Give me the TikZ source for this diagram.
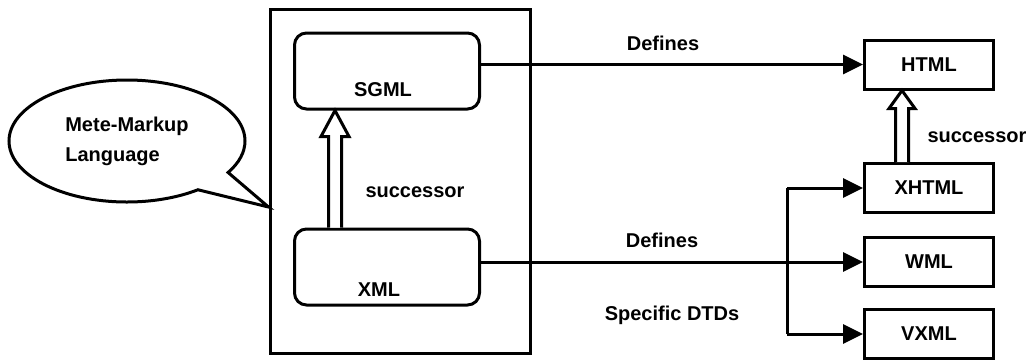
\documentclass[tikz,border=0pt]{standalone}
\usepackage{fontspec}
\setmainfont{Liberation Sans}
\usetikzlibrary{arrows.meta,calc,shapes.callouts}

% hollow upward arrow: bottom point, tip point, shaft half width, head half width, head length
\newcommand\hollowup[5]{%
  \draw[line width=3pt, line join=miter, fill=white]
    ($(#1)+(-#3,0)$) -- ($(#2)+(-#3,#5)$) -- ($(#2)+(-#4,#5)$) -- (#2)
    -- ($(#2)+(#4,#5)$) -- ($(#2)+(#3,#5)$) -- ($(#1)+(#3,0)$);}

\begin{document}
\begin{tikzpicture}[x=1pt, y=-1pt,
  every node/.style={font=\fontsize{20}{30}\selectfont\bfseries},
  frame/.style={draw, line width=3pt, minimum width=260, minimum height=344, inner sep=0},
  rbox/.style={draw, line width=3pt, rounded corners=12pt, minimum width=185, minimum height=76, inner sep=0},
  tbox/.style={draw, line width=3pt, minimum width=129, minimum height=49, inner sep=0},
  conn/.style={line width=3pt},
  arr/.style={conn, -{Triangle[length=20pt, width=19pt]}},
  lbl/.style={inner sep=0}]
\useasboundingbox (0,0) rectangle (1028,360);

% meta-markup group
\node[frame] (frame) at (400,181) {};
\node[rbox, label={[lbl, xshift=-4pt, yshift=-19pt]center:SGML}] (sgml) at (387,71) {};
\node[rbox, label={[lbl, xshift=-8pt, yshift=-23pt]center:XML}] (xml) at (387,267) {};

% speech bubble
\node[ellipse callout, draw, line width=3pt, minimum width=236, minimum height=122,
      callout absolute pointer={(frame.west |- 0,207)}, callout pointer arc=22,
      align=left, inner sep=0] (bubble) at (127,141) {Mete-Markup\\Language};

% target languages
\node[tbox] (html)  at (929,64.5) {HTML};
\node[tbox] (xhtml) at (929,188) {XHTML};
\node[tbox] (wml)   at (929,262) {WML};
\node[tbox] (vxml)  at (929,334) {VXML};

% branch point of the specific DTDs
\coordinate (split) at (787,262);

% connectors
\draw[arr] (sgml.east |- html.west) -- (html.west);
\draw[arr] (xml.east |- wml.west) -- (wml.west);
\draw[conn] (split |- xhtml.west) -- (split |- vxml.west);
\draw[arr] (split |- xhtml.west) -- (xhtml.west);
\draw[arr] (split |- vxml.west) -- (vxml.west);

% successor arrows
\coordinate (sa) at (335,0);
\coordinate (sb) at (902,0);
\hollowup{sa |- xml.north}{sa |- sgml.south}{6.5}{14}{26}
\hollowup{sb |- xhtml.north}{sb |- html.south}{6.5}{13}{18}

% labels
\node[lbl] (def1) at (663,43) {Defines};
\node[lbl] (def2) at (662,240) {Defines};
\node[lbl] (dtds) at (672,315) {Specific DTDs};
\node[lbl] (succ1) at (415,192) {successor};
\node[lbl] (succ2) at (977,137) {successor};
\end{tikzpicture}
\end{document}
